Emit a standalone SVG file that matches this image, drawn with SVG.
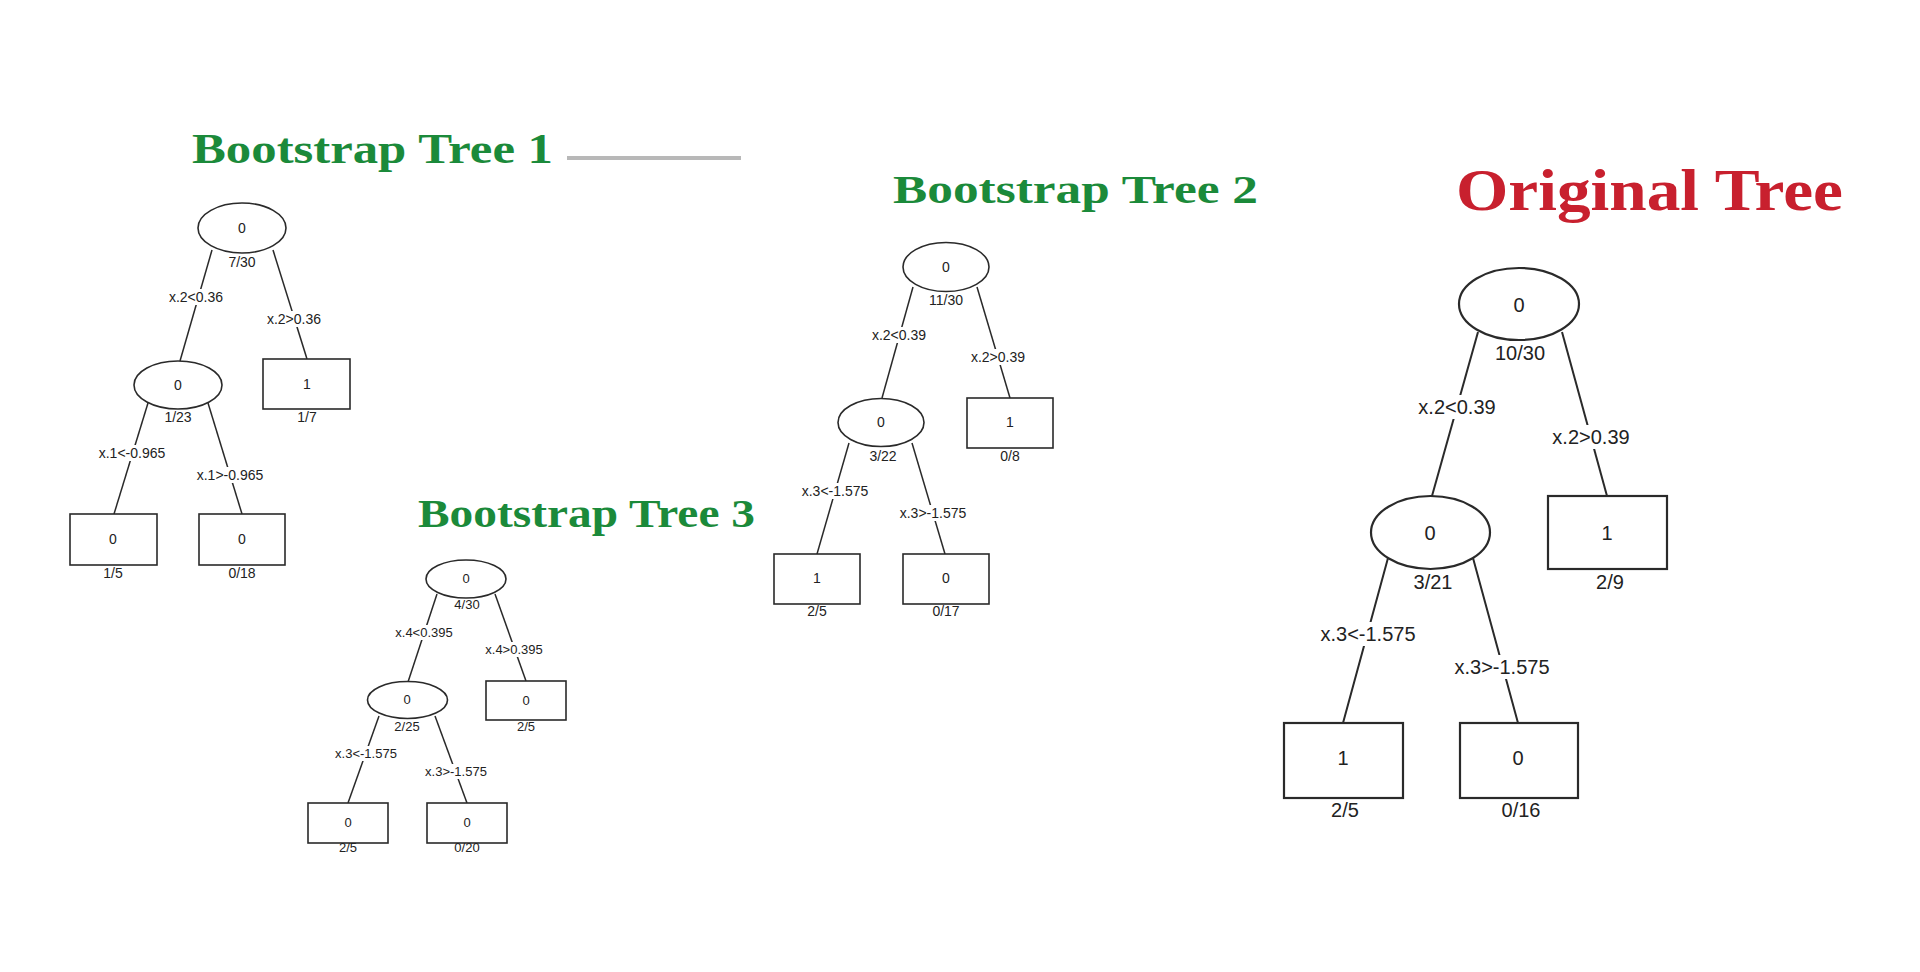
<svg xmlns="http://www.w3.org/2000/svg" width="1920" height="972" viewBox="0 0 1920 972">
<style>
  .bg{fill:#fff}
  .title{font-family:"Liberation Serif","DejaVu Serif",serif;font-weight:bold}
  .green{fill:#1b8a3a}
  .red{fill:#c8202e}
  .shape{fill:#fff;stroke:#2a2a2a;stroke-width:1.6}
  .big .shape{stroke-width:2.2}
  .edge{stroke:#2a2a2a;stroke-width:1.5;fill:none}
  .edge.big{stroke-width:2}
  .lb{fill:#fff}
  text.lbl{font-family:"Liberation Sans",Arial,sans-serif;fill:#222;text-anchor:middle;dominant-baseline:central}
  .s14{font-size:14px}
  .s13{font-size:13px}
  .s20{font-size:20px}
</style>
<rect class="bg" x="0" y="0" width="1920" height="972"/>

<!-- Titles -->
<g id="title1">
  <text class="title green" x="192" y="163" font-size="42" textLength="361" lengthAdjust="spacingAndGlyphs">Bootstrap Tree 1</text>
  <line x1="567" y1="158" x2="741" y2="158" stroke="#b8b8b8" stroke-width="4"/>
</g>
<g id="title2"><text class="title green" x="893" y="203" font-size="41" textLength="365" lengthAdjust="spacingAndGlyphs">Bootstrap Tree 2</text></g>
<g id="title3"><text class="title green" x="418" y="527" font-size="39" textLength="337" lengthAdjust="spacingAndGlyphs">Bootstrap Tree 3</text></g>
<g id="title-original"><text class="title red" x="1456" y="210" font-size="60" textLength="387" lengthAdjust="spacingAndGlyphs">Original Tree</text></g>

<!-- Connectors -->
<g id="connectors">
  <!-- Tree 1 -->
  <line class="edge" x1="212" y1="250" x2="180" y2="361"/>
  <line class="edge" x1="273" y1="250" x2="307" y2="359"/>
  <line class="edge" x1="148" y1="403" x2="114" y2="514"/>
  <line class="edge" x1="208" y1="403" x2="242" y2="514"/>
  <!-- Tree 2 -->
  <line class="edge" x1="913" y1="287" x2="882" y2="398"/>
  <line class="edge" x1="977" y1="287" x2="1010" y2="398"/>
  <line class="edge" x1="849" y1="443" x2="817" y2="554"/>
  <line class="edge" x1="912" y1="443" x2="945" y2="554"/>
  <!-- Tree 3 -->
  <line class="edge" x1="437" y1="594" x2="408" y2="682"/>
  <line class="edge" x1="495" y1="594" x2="526" y2="681"/>
  <line class="edge" x1="379" y1="716" x2="348" y2="803"/>
  <line class="edge" x1="435" y1="716" x2="467" y2="803"/>
  <!-- Original -->
  <line class="edge big" x1="1478" y1="332" x2="1432" y2="496"/>
  <line class="edge big" x1="1562" y1="332" x2="1607" y2="496"/>
  <line class="edge big" x1="1388" y1="558" x2="1343" y2="723"/>
  <line class="edge big" x1="1473" y1="558" x2="1518" y2="723"/>
</g>

<!-- Edge labels -->
<g id="edge-labels">
  <rect class="lb" x="167" y="289" width="58" height="16"/><text class="lbl s14" x="196" y="297">x.2&lt;0.36</text>
  <rect class="lb" x="265" y="311" width="58" height="16"/><text class="lbl s14" x="294" y="319">x.2&gt;0.36</text>
  <rect class="lb" x="96" y="445" width="72" height="16"/><text class="lbl s14" x="132" y="453">x.1&lt;-0.965</text>
  <rect class="lb" x="194" y="467" width="72" height="16"/><text class="lbl s14" x="230" y="475">x.1&gt;-0.965</text>

  <rect class="lb" x="870" y="327" width="58" height="16"/><text class="lbl s14" x="899" y="335">x.2&lt;0.39</text>
  <rect class="lb" x="969" y="349" width="58" height="16"/><text class="lbl s14" x="998" y="357">x.2&gt;0.39</text>
  <rect class="lb" x="799" y="483" width="72" height="16"/><text class="lbl s14" x="835" y="491">x.3&lt;-1.575</text>
  <rect class="lb" x="897" y="505" width="72" height="16"/><text class="lbl s14" x="933" y="513">x.3&gt;-1.575</text>

  <rect class="lb" x="393" y="625" width="62" height="15"/><text class="lbl s13" x="424" y="632">x.4&lt;0.395</text>
  <rect class="lb" x="483" y="642" width="62" height="15"/><text class="lbl s13" x="514" y="649">x.4&gt;0.395</text>
  <rect class="lb" x="333" y="746" width="66" height="15"/><text class="lbl s13" x="366" y="753">x.3&lt;-1.575</text>
  <rect class="lb" x="423" y="764" width="66" height="15"/><text class="lbl s13" x="456" y="771">x.3&gt;-1.575</text>

  <rect class="lb" x="1417" y="395" width="80" height="24"/><text class="lbl s20" x="1457" y="407">x.2&lt;0.39</text>
  <rect class="lb" x="1551" y="425" width="80" height="24"/><text class="lbl s20" x="1591" y="437">x.2&gt;0.39</text>
  <rect class="lb" x="1319" y="622" width="98" height="24"/><text class="lbl s20" x="1368" y="634">x.3&lt;-1.575</text>
  <rect class="lb" x="1453" y="655" width="98" height="24"/><text class="lbl s20" x="1502" y="667">x.3&gt;-1.575</text>
</g>

<!-- Tree 1 nodes -->
<g id="t1-root"><ellipse class="shape" cx="242" cy="228" rx="44" ry="25"/><text class="lbl s14" x="242" y="228">0</text><text class="lbl s14" x="242" y="262">7/30</text></g>
<g id="t1-left"><ellipse class="shape" cx="178" cy="385" rx="44" ry="24"/><text class="lbl s14" x="178" y="385">0</text><text class="lbl s14" x="178" y="417">1/23</text></g>
<g id="t1-right"><rect class="shape" x="263" y="359" width="87" height="50"/><text class="lbl s14" x="307" y="384">1</text><text class="lbl s14" x="307" y="417">1/7</text></g>
<g id="t1-ll"><rect class="shape" x="70" y="514" width="87" height="51"/><text class="lbl s14" x="113" y="539">0</text><text class="lbl s14" x="113" y="573">1/5</text></g>
<g id="t1-lr"><rect class="shape" x="199" y="514" width="86" height="51"/><text class="lbl s14" x="242" y="539">0</text><text class="lbl s14" x="242" y="573">0/18</text></g>

<!-- Tree 2 nodes -->
<g id="t2-root"><ellipse class="shape" cx="946" cy="267" rx="43" ry="24.5"/><text class="lbl s14" x="946" y="267">0</text><text class="lbl s14" x="946" y="300">11/30</text></g>
<g id="t2-left"><ellipse class="shape" cx="881" cy="422.5" rx="43" ry="24"/><text class="lbl s14" x="881" y="422">0</text><text class="lbl s14" x="883" y="456">3/22</text></g>
<g id="t2-right"><rect class="shape" x="967" y="398" width="86" height="50"/><text class="lbl s14" x="1010" y="422">1</text><text class="lbl s14" x="1010" y="456">0/8</text></g>
<g id="t2-ll"><rect class="shape" x="774" y="554" width="86" height="50"/><text class="lbl s14" x="817" y="578">1</text><text class="lbl s14" x="817" y="611">2/5</text></g>
<g id="t2-lr"><rect class="shape" x="903" y="554" width="86" height="50"/><text class="lbl s14" x="946" y="578">0</text><text class="lbl s14" x="946" y="611">0/17</text></g>

<!-- Tree 3 nodes -->
<g id="t3-root"><ellipse class="shape" cx="466" cy="579" rx="40" ry="19"/><text class="lbl s13" x="466" y="578">0</text><text class="lbl s13" x="467" y="604">4/30</text></g>
<g id="t3-left"><ellipse class="shape" cx="407.5" cy="700" rx="40" ry="18.5"/><text class="lbl s13" x="407" y="699">0</text><text class="lbl s13" x="407" y="726">2/25</text></g>
<g id="t3-right"><rect class="shape" x="486" y="681" width="80" height="39"/><text class="lbl s13" x="526" y="700">0</text><text class="lbl s13" x="526" y="726">2/5</text></g>
<g id="t3-ll"><rect class="shape" x="308" y="803" width="80" height="40"/><text class="lbl s13" x="348" y="822">0</text><text class="lbl s13" x="348" y="847">2/5</text></g>
<g id="t3-lr"><rect class="shape" x="427" y="803" width="80" height="40"/><text class="lbl s13" x="467" y="822">0</text><text class="lbl s13" x="467" y="847">0/20</text></g>

<!-- Original tree nodes -->
<g id="o-root" class="big"><ellipse class="shape" cx="1519" cy="304" rx="60" ry="36"/><text class="lbl s20" x="1519" y="305">0</text><text class="lbl s20" x="1520" y="353">10/30</text></g>
<g id="o-left" class="big"><ellipse class="shape" cx="1430.5" cy="532.5" rx="59.5" ry="36.5"/><text class="lbl s20" x="1430" y="533">0</text><text class="lbl s20" x="1433" y="582">3/21</text></g>
<g id="o-right" class="big"><rect class="shape" x="1548" y="496" width="119" height="73"/><text class="lbl s20" x="1607" y="533">1</text><text class="lbl s20" x="1610" y="582">2/9</text></g>
<g id="o-ll" class="big"><rect class="shape" x="1284" y="723" width="119" height="75"/><text class="lbl s20" x="1343" y="758">1</text><text class="lbl s20" x="1345" y="810">2/5</text></g>
<g id="o-lr" class="big"><rect class="shape" x="1460" y="723" width="118" height="75"/><text class="lbl s20" x="1518" y="758">0</text><text class="lbl s20" x="1521" y="810">0/16</text></g>
</svg>
